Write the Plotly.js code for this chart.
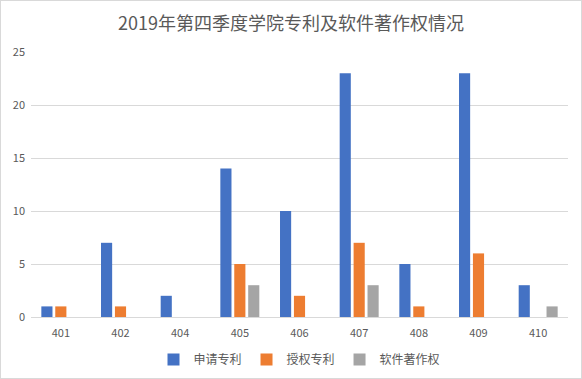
<!DOCTYPE html>
<html><head><meta charset="utf-8">
<script src="https://cdn.plot.ly/plotly-3.0.1.min.js"></script>
<style>html,body{margin:0;padding:0;background:#fff}#c{width:580px;height:377px;border:1px solid #d9d9d9}</style>
</head><body><div id="c"></div>
<script>
const categories = ["401","402","404","405","406","407","408","409","410"];
const applied = [1,7,2,14,10,23,5,23,3];
const granted = [1,1,0,5,2,7,1,6,0];
const software = [0,0,0,3,0,3,0,0,1];
const seriesNames = ["申请专利","授权专利","软件著作权"];
const colors = ["#4472C4","#ED7D31","#A5A5A5"];
const vals = [applied, granted, software];
const data = vals.map((v,i)=>({type:"bar",x:categories,y:v,name:seriesNames[i],marker:{color:colors[i]},hoverinfo:"none"}));
const layout = {
  width:580,height:377,
  margin:{l:30,r:13,t:51,b:61,autoexpand:false},
  paper_bgcolor:"#fff",plot_bgcolor:"#fff",
  font:{family:"'Noto Sans CJK SC', sans-serif",color:"#595959",size:11},
  title:{text:"2019年第四季度学院专利及软件著作权情况",font:{size:18,color:"#595959"},x:0.5,xanchor:"center",y:0.94,yanchor:"middle"},
  barmode:"group",bargap:0.3,bargroupgap:0.2,
  xaxis:{type:"category",showgrid:false,showline:true,linecolor:"#d9d9d9",ticks:"outside",ticklen:6,tickcolor:"rgba(0,0,0,0)",tickfont:{size:11,color:"#595959"}},
  yaxis:{range:[0,25],dtick:5,showgrid:true,gridcolor:"#d9d9d9",zeroline:false,showline:false,ticks:"",ticksuffix:"  ",tickfont:{size:11,color:"#595959"}},
  showlegend:true,
  legend:{orientation:"h",x:0.5,xanchor:"center",y:-0.16,yanchor:"middle",font:{size:12,color:"#595959"},itemwidth:30}
};
Plotly.newPlot("c",data,layout,{displayModeBar:false,staticPlot:true});
</script></body></html>
